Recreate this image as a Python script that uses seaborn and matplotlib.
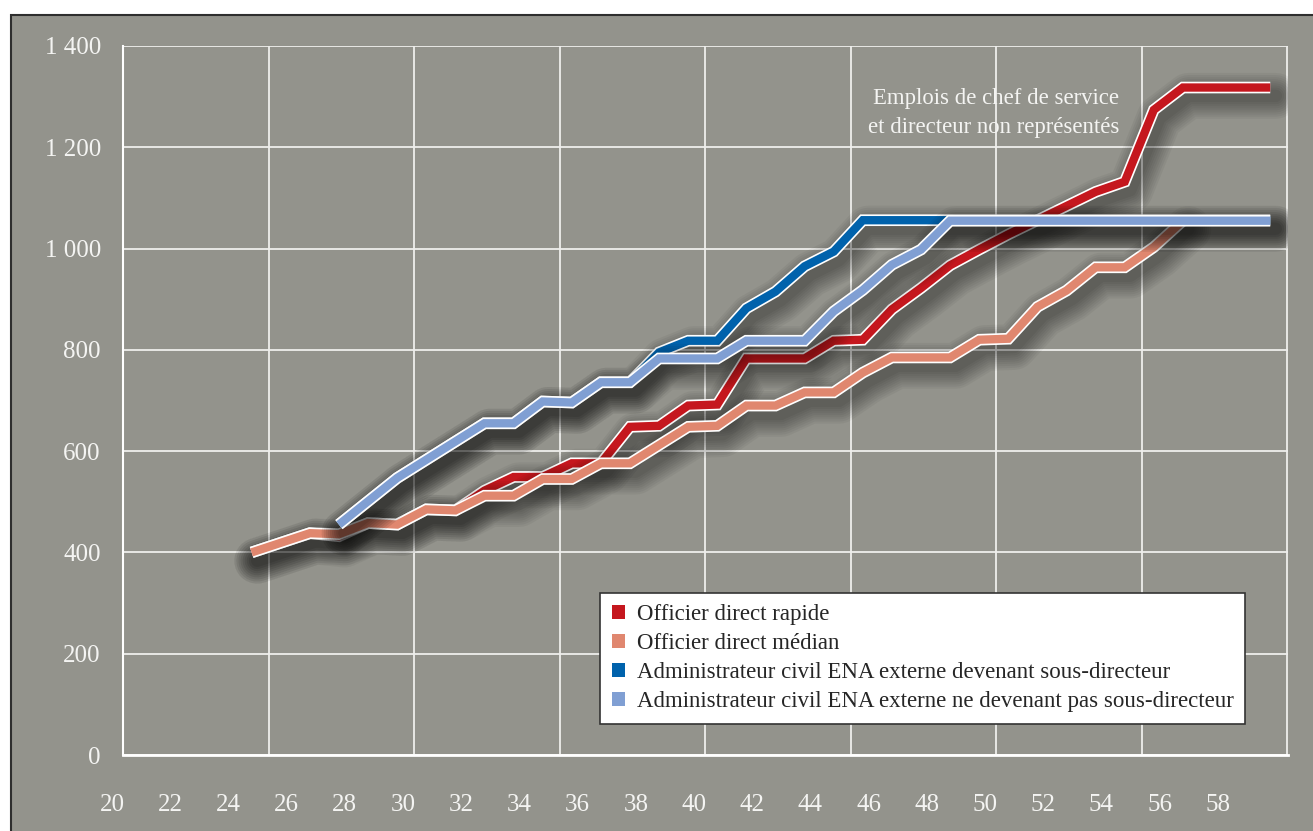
import pandas as pd
import matplotlib
matplotlib.use('Agg')
import matplotlib.pyplot as plt
import matplotlib.patheffects as pe
from matplotlib.patches import Patch, Rectangle
import seaborn as sns

# Values (age -> points)
series = ['Officier direct rapide',
          'Officier direct médian',
          'Administrateur civil ENA externe devenant sous-directeur',
          'Administrateur civil ENA externe ne devenant pas sous-directeur']

ages_rapide = [25, 27, 28, 29, 30, 31, 32, 33, 34, 35, 36, 37, 38, 39, 40, 41, 42, 43, 44,
               45, 46, 47, 48, 49, 50, 51, 52, 53, 54, 55, 56, 57, 58, 59, 60]
vals_rapide = [400, 438, 432, 458, 455, 485, 483, 522, 549, 549, 576, 576, 648, 650, 690, 692,
               783, 783, 783, 818, 820, 880, 922, 967, 998, 1028, 1056, 1084, 1112, 1132, 1274,
               1318, 1318, 1318, 1318]

ages_median = [25, 27, 28, 29, 30, 31, 32, 33, 34, 35, 36, 37, 38, 40, 41, 42, 43, 44, 45,
               46, 47, 48, 49, 50, 51, 52, 53, 54, 55, 56, 57]
vals_median = [400, 438, 436, 458, 455, 485, 483, 512, 512, 545, 545, 576, 576, 648, 650, 690,
               690, 716, 716, 755, 785, 785, 785, 820, 822, 885, 917, 963, 963, 1003, 1055]

ages_sd = [28, 30, 33, 34, 35, 36, 37, 38, 39, 40, 41, 42, 43, 44, 45, 46, 47, 48, 49, 50,
           51, 52, 53, 54, 55, 56, 57, 58, 59, 60]
vals_sd = [455, 547, 655, 655, 698, 696, 736, 736, 795, 818, 818, 882, 915, 965, 994, 1056,
           1056, 1056, 1056, 1056, 1056, 1056, 1056, 1056, 1056, 1056, 1056, 1056, 1056, 1056]

ages_nsd = [28, 30, 33, 34, 35, 36, 37, 38, 39, 40, 41, 42, 43, 44, 45, 46, 47, 48, 49, 50,
            51, 52, 53, 54, 55, 56, 57, 58, 59, 60]
vals_nsd = [455, 547, 655, 655, 698, 696, 736, 736, 783, 783, 783, 818, 818, 818, 876, 918,
            968, 998, 1055, 1055, 1055, 1055, 1055, 1055, 1055, 1055, 1055, 1055, 1055, 1055]

colors = ['#c5171e', '#e0876f', '#0062ac', '#809fd3']
x_labels = list(range(20, 59, 2))
y_ticks = list(range(0, 1401, 200))
note = 'Emplois de chef de service\net directeur non représentés'

frames = []
for s, a, v in zip(series,
                   [ages_rapide, ages_median, ages_sd, ages_nsd],
                   [vals_rapide, vals_median, vals_sd, vals_nsd]):
    frames.append(pd.DataFrame({'age': a, 'valeur': v, 'serie': s}))
df = pd.concat(frames, ignore_index=True)

bg = '#93938c'
txt = '#f4f4f2'

sns.set_style('white')
plt.rcParams['font.family'] = ['Liberation Serif', 'DejaVu Serif']

fig, ax = plt.subplots(figsize=(13.13, 8.31), dpi=100)
fig.patch.set_facecolor('white')
fig.add_artist(Rectangle((11 / 1313, -0.05), 1.1, 0.05 + 816 / 831,
                         transform=fig.transFigure, facecolor=bg,
                         edgecolor='#2e2e2e', lw=1.5, zorder=-10))
fig.subplots_adjust(left=123 / 1313, right=1288.3 / 1313,
                    top=(831 - 46) / 831, bottom=(831 - 755) / 831)
ax.set_facecolor(bg)

sns.lineplot(data=df, x='age', y='valeur', hue='serie', hue_order=series,
             palette=colors, lw=6.0, ax=ax, legend=False, sort=False,
             estimator=None)

# white outline + soft drop shadow like the original
shadow = [pe.SimpleLineShadow(offset=(4, -6), shadow_color='black', alpha=0.042,
                              linewidth=w, capstyle='round', joinstyle='round')
          for w in range(9, 36, 3)]
for i, line in enumerate(ax.lines):
    line.set_solid_joinstyle('miter')
    line.set_solid_capstyle('butt')
    line.set_zorder(3 + i)
    line.set_path_effects(shadow + [pe.Stroke(linewidth=8.4, foreground='white'),
                                    pe.Normal()])

ax.set_xlim(20.58, 60.62)
ax.set_ylim(0, 1400)

# vertical grid every 5 years, tick marks below the axis
ax.set_xticks([25.58, 30.58, 35.58, 40.58, 45.58, 50.58, 55.58, 60.58])
ax.set_xticklabels([])
ax.tick_params(axis='x', length=15, width=1.3, color='white', direction='out')
for a in x_labels:
    ax.text(a + 0.2, -0.07, str(a), transform=ax.get_xaxis_transform(),
            ha='center', va='center', color=txt, fontsize=18, clip_on=False)

ax.set_yticks(y_ticks)
ax.set_yticklabels([f'{v:,}'.replace(',', ' ') for v in y_ticks])
ax.tick_params(axis='y', length=0, pad=16, labelcolor=txt, labelsize=18)

ax.grid(True, color='#eeeeec', lw=1.3)
ax.set_axisbelow(True)
for side in ['top', 'right']:
    ax.spines[side].set_visible(False)
ax.spines['left'].set_color('white')
ax.spines['left'].set_linewidth(1.5)
ax.spines['bottom'].set_color('white')
ax.spines['bottom'].set_linewidth(2)
ax.set_xlabel('')
ax.set_ylabel('')

ax.text(54.8, 1268, note, ha='right', va='center', color=txt, fontsize=16.4,
        linespacing=1.5, zorder=2)

handles = [Patch(facecolor=c, edgecolor='none', label=s) for s, c in zip(series, colors)]
leg = ax.legend(handles=handles, loc='upper left', bbox_to_anchor=(0.4094, 0.2289),
                fontsize=16.5, frameon=True, fancybox=False, edgecolor='#333333',
                framealpha=1, handlelength=0.6, handleheight=0.6,
                handletextpad=0.5, labelspacing=0.35, borderpad=0.5,
                borderaxespad=0)
leg.get_frame().set_linewidth(1.2)
leg.set_zorder(20)

fig.savefig('out.png', dpi=100)
